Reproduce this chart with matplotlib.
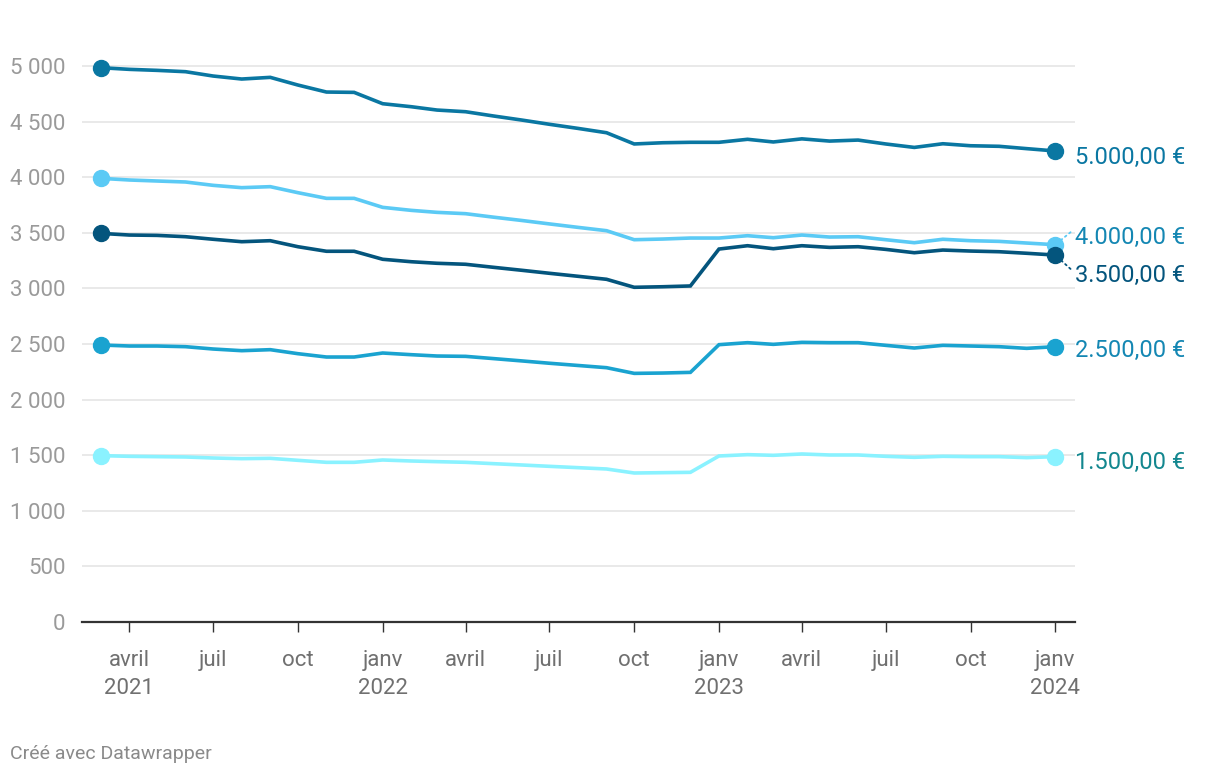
import pandas as pd
import matplotlib
matplotlib.use("Agg")
import matplotlib.pyplot as plt
import matplotlib.dates as mdates

plt.rcParams['font.family'] = ['Roboto', 'DejaVu Sans']

#%% data (monthly, March 2021 - January 2024)
months = pd.date_range("2021-03-01", "2024-01-01", freq="MS")

s5000 = [4985, 4970, 4961, 4949, 4910, 4883, 4898, 4829, 4766, 4763, 4661, 4634,
         4604, 4589, 4551, 4514, 4476, 4439, 4400, 4299, 4310, 4314, 4314, 4341,
         4317, 4345, 4325, 4334, 4299, 4268, 4301, 4283, 4278, 4257, 4236]
s4000 = [3990, 3975, 3966, 3957, 3927, 3906, 3915, 3861, 3810, 3810, 3729, 3702,
         3684, 3672, 3641, 3611, 3580, 3549, 3519, 3438, 3444, 3453, 3453, 3474,
         3456, 3480, 3462, 3465, 3438, 3411, 3442, 3429, 3423, 3408, 3393]
s3500 = [3495, 3480, 3477, 3465, 3442, 3420, 3429, 3375, 3334, 3334, 3262, 3240,
         3226, 3217, 3190, 3163, 3136, 3109, 3082, 3010, 3015, 3022, 3354, 3384,
         3357, 3384, 3369, 3375, 3351, 3321, 3345, 3336, 3330, 3316, 3300]
s2500 = [2491, 2482, 2482, 2476, 2455, 2440, 2449, 2413, 2383, 2383, 2419, 2404,
         2392, 2389, 2369, 2348, 2327, 2307, 2287, 2236, 2239, 2245, 2494, 2512,
         2497, 2515, 2512, 2512, 2488, 2464, 2488, 2482, 2476, 2461, 2476]
s1500 = [1496, 1490, 1487, 1484, 1475, 1469, 1472, 1454, 1436, 1436, 1457, 1448,
         1442, 1436, 1424, 1412, 1400, 1388, 1376, 1340, 1343, 1346, 1493, 1505,
         1499, 1511, 1502, 1502, 1490, 1481, 1490, 1487, 1487, 1478, 1487]

series_labels = ["5.000,00 €", "4.000,00 €", "3.500,00 €", "2.500,00 €", "1.500,00 €"]
tick_dates = pd.date_range("2021-04-01", "2024-01-01", freq="3MS")
tick_labels = ["avril\n2021", "juil", "oct", "janv\n2022", "avril", "juil", "oct",
               "janv\n2023", "avril", "juil", "oct", "janv\n2024"]
yticks = list(range(0, 5001, 500))

line_colors = ["#0a77a2", "#5bcaf5", "#04557d", "#1aa3d0", "#8af2ff"]
text_colors = ["#0a77a2", "#1487b3", "#04557d", "#1487b3", "#13878f"]
# label offsets in points (dx, dy) to avoid overlap
label_offsets = [(14, -5), (14, 5.5), (14, -15), (14, -3), (14, -4)]

#%% plot
fig = plt.figure(figsize=(12.2, 7.78), dpi=100)
ax = fig.add_axes([82 / 1220, 1 - 622 / 778, (1075 - 82) / 1220, (622 - 40) / 778])

all_series = [s5000, s4000, s3500, s2500, s1500]
for vals, lc, tc, lab, off in zip(all_series, line_colors, text_colors, series_labels, label_offsets):
    ax.plot(months, vals, color=lc, lw=2.6, solid_joinstyle="miter", zorder=3)
    ax.plot([months[0], months[-1]], [vals[0], vals[-1]], "o", color=lc, ms=11.5, zorder=4)
    ax.annotate(lab, xy=(months[-1], vals[-1]), xytext=off, textcoords="offset points",
                color=tc, fontsize=17, va="center", ha="left", annotation_clip=False)

# dotted connectors for moved labels
for vals, lc, dy in [(s4000, line_colors[1], 9), (s3500, line_colors[2], -10)]:
    ax.annotate("", xy=(months[-1], vals[-1]), xytext=(11, dy), textcoords="offset points",
                arrowprops=dict(arrowstyle="-", linestyle=(0, (1, 2)), color=lc, lw=1.3,
                                shrinkA=0, shrinkB=6), annotation_clip=False)

ax.set_xlim(mdates.date2num(pd.Timestamp("2021-02-08 16:00")),
            mdates.date2num(pd.Timestamp("2024-01-22 10:00")))
ax.set_ylim(0, 5234)

ax.set_yticks(yticks)
ax.set_yticklabels([f"{v:,}".replace(",", " ") for v in yticks])
ax.set_xticks(tick_dates)
ax.set_xticklabels(tick_labels, linespacing=1.45)

ax.grid(axis="y", color="#e3e3e3", lw=1.1, zorder=0)
ax.tick_params(axis="y", length=0, pad=12, labelsize=16, labelcolor="#9a9a9a")
ax.tick_params(axis="x", length=7, width=1, color="#333333", pad=13,
               labelsize=16, labelcolor="#707070")
for s in ["top", "right", "left"]:
    ax.spines[s].set_visible(False)
ax.spines["bottom"].set_color("#333333")
ax.spines["bottom"].set_linewidth(1.6)
ax.spines["bottom"].set_zorder(5)

fig.text(10 / 1220, 1 - 754 / 778, "Créé avec Datawrapper", fontsize=14,
         color="#8a8a8a", va="center", ha="left")

fig.savefig("out.png", dpi=100)
